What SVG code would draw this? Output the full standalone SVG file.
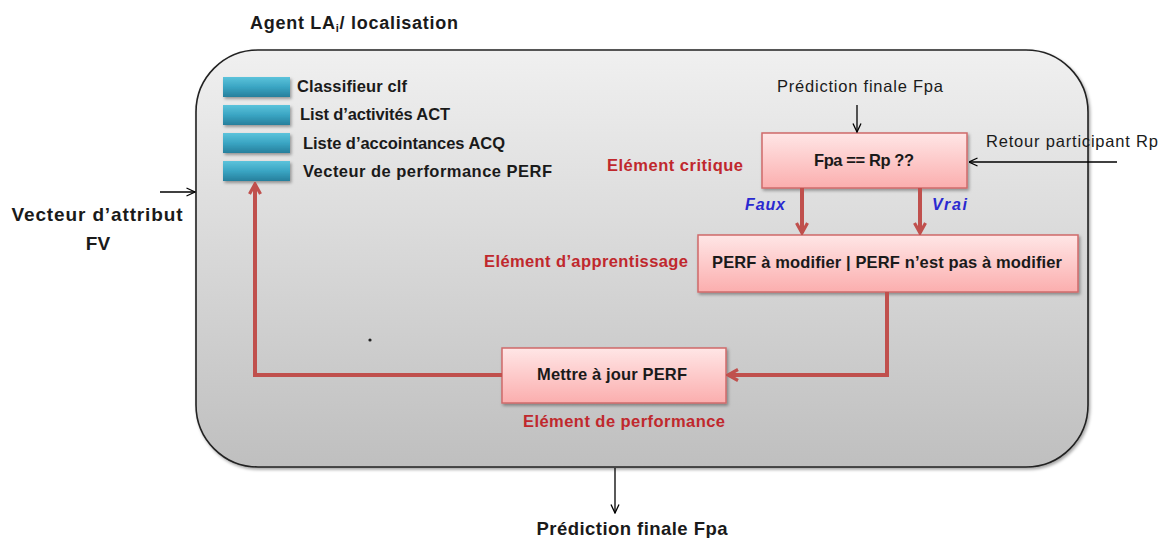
<svg xmlns="http://www.w3.org/2000/svg" width="1167" height="538" viewBox="0 0 1167 538">
  <defs>
    <linearGradient id="gFrame" x1="0" y1="0" x2="0" y2="1">
      <stop offset="0" stop-color="#f0f0f0"/>
      <stop offset="1" stop-color="#bfbfbf"/>
    </linearGradient>
    <linearGradient id="gPink" x1="0" y1="0" x2="0" y2="1">
      <stop offset="0" stop-color="#ffe6e6"/>
      <stop offset="1" stop-color="#fbaeae"/>
    </linearGradient>
    <linearGradient id="gTeal" x1="0" y1="0" x2="0" y2="1">
      <stop offset="0" stop-color="#5cc3db"/>
      <stop offset="0.5" stop-color="#3aa5c3"/>
      <stop offset="1" stop-color="#267f9c"/>
    </linearGradient>
    <filter id="shadow" x="-10%" y="-10%" width="130%" height="140%">
      <feDropShadow dx="1.5" dy="2" stdDeviation="1.5" flood-color="#000" flood-opacity="0.35"/>
    </filter>
    <marker id="ahBlack" viewBox="0 0 10 10" refX="9.5" refY="5" markerWidth="10" markerHeight="10" markerUnits="userSpaceOnUse" orient="auto">
      <path d="M1,1 L9.5,5 L1,9" fill="none" stroke="#000" stroke-width="1.3"/>
    </marker>
    <marker id="ahRed" viewBox="0 0 14 14" refX="12" refY="7" markerWidth="14" markerHeight="14" markerUnits="userSpaceOnUse" orient="auto">
      <path d="M2,1.5 L12,7 L2,12.5" fill="none" stroke="#c0504d" stroke-width="3.2" stroke-linejoin="miter"/>
    </marker>
  </defs>
  <style>
    .b { font-family: "Liberation Sans", Arial, sans-serif; font-weight: bold; fill: #1a1a1a; }
    .r { font-family: "Liberation Sans", Arial, sans-serif; fill: #1a1a1a; }
    .red { font-family: "Liberation Sans", Arial, sans-serif; font-weight: bold; fill: #c0282d; font-size: 16.5px; }
    .blue { font-family: "Liberation Sans", Arial, sans-serif; font-weight: bold; font-style: italic; fill: #2a2ad0; font-size: 16px; }
    .box { fill: url(#gPink); stroke: #cf6a6a; stroke-width: 1.5; filter: url(#shadow); }
    .bar { fill: url(#gTeal); filter: url(#shadow); }
    .thin { stroke: #000; stroke-width: 1.3; fill: none; marker-end: url(#ahBlack); }
    .thick { stroke: #c0504d; stroke-width: 4; fill: none; marker-end: url(#ahRed); }
  </style>

  <rect width="1167" height="538" fill="#ffffff"/>

  <text class="b" x="250" y="29" font-size="18" textLength="208">Agent LA<tspan font-size="11" dy="3">i</tspan><tspan dy="-3">/ localisation</tspan></text>

  <g id="agent">
    <rect x="196" y="50" width="892" height="417" rx="62" ry="62" fill="url(#gFrame)" stroke="#222" stroke-width="1.6" filter="url(#shadow)"/>
    <circle cx="370" cy="340" r="1.6" fill="#222"/>
  </g>

  <g id="attributes">
    <rect class="bar" x="223" y="77" width="67" height="20"/>
    <rect class="bar" x="223" y="105" width="67" height="20"/>
    <rect class="bar" x="223" y="133" width="67" height="20"/>
    <rect class="bar" x="223" y="161" width="67" height="20"/>
    <text class="b" x="297" y="92" font-size="16.5" textLength="110">Classifieur clf</text>
    <text class="b" x="300" y="120" font-size="16.5" textLength="150">List d’activités ACT</text>
    <text class="b" x="303" y="149" font-size="16.5" textLength="202">Liste d’accointances ACQ</text>
    <text class="b" x="303" y="177" font-size="16.5" textLength="249">Vecteur de performance PERF</text>
  </g>

  <g id="input-fv">
    <text class="b" x="97" y="221" font-size="19" text-anchor="middle" textLength="171">Vecteur d’attribut</text>
    <text class="b" x="98" y="250" font-size="19" text-anchor="middle">FV</text>
  </g>

  <g id="critique">
    <rect class="box" x="762" y="133" width="205" height="55"/>
    <text class="b" x="864" y="166" font-size="16.5" text-anchor="middle" textLength="100">Fpa == Rp ??</text>
    <text class="red" x="743" y="171" text-anchor="end" textLength="136">Elément critique</text>
  </g>

  <g id="apprentissage">
    <rect class="box" x="698" y="235" width="380" height="57"/>
    <text class="b" x="887" y="268" font-size="16.5" text-anchor="middle" textLength="350">PERF à modifier | PERF n’est pas à modifier</text>
    <text class="red" x="688" y="267" text-anchor="end" textLength="204">Elément d’apprentissage</text>
  </g>

  <g id="performance">
    <rect class="box" x="502" y="348" width="224" height="55"/>
    <text class="b" x="612" y="380" font-size="16.5" text-anchor="middle" textLength="150">Mettre à jour PERF</text>
    <text class="red" x="523" y="427" textLength="202">Elément de performance</text>
  </g>

  <g id="input-fpa">
    <text class="r" x="860" y="92" font-size="16.5" text-anchor="middle" textLength="166">Prédiction finale Fpa</text>
  </g>

  <g id="input-rp">
    <text class="r" x="986" y="147" font-size="16.5" textLength="172">Retour participant Rp</text>
  </g>

  <g id="output-fpa">
    <text class="b" x="632" y="535" font-size="18.5" text-anchor="middle" textLength="191">Prédiction finale Fpa</text>
  </g>

  <g id="connectors">
    <line class="thin" x1="160" y1="192" x2="195" y2="192"/>
    <line class="thin" x1="857" y1="105" x2="857" y2="132"/>
    <line class="thin" x1="1117" y1="162" x2="969" y2="162"/>
    <line class="thin" x1="615" y1="468" x2="615" y2="513"/>
    <line class="thick" x1="802" y1="188" x2="802" y2="233"/>
    <line class="thick" x1="920" y1="188" x2="920" y2="233"/>
    <polyline class="thick" points="887,292 887,375 728,375"/>
    <polyline class="thick" points="502,375 255,375 255,184"/>
    <text class="blue" x="745" y="210" textLength="40">Faux</text>
    <text class="blue" x="932" y="210" textLength="35">Vrai</text>
  </g>
</svg>
